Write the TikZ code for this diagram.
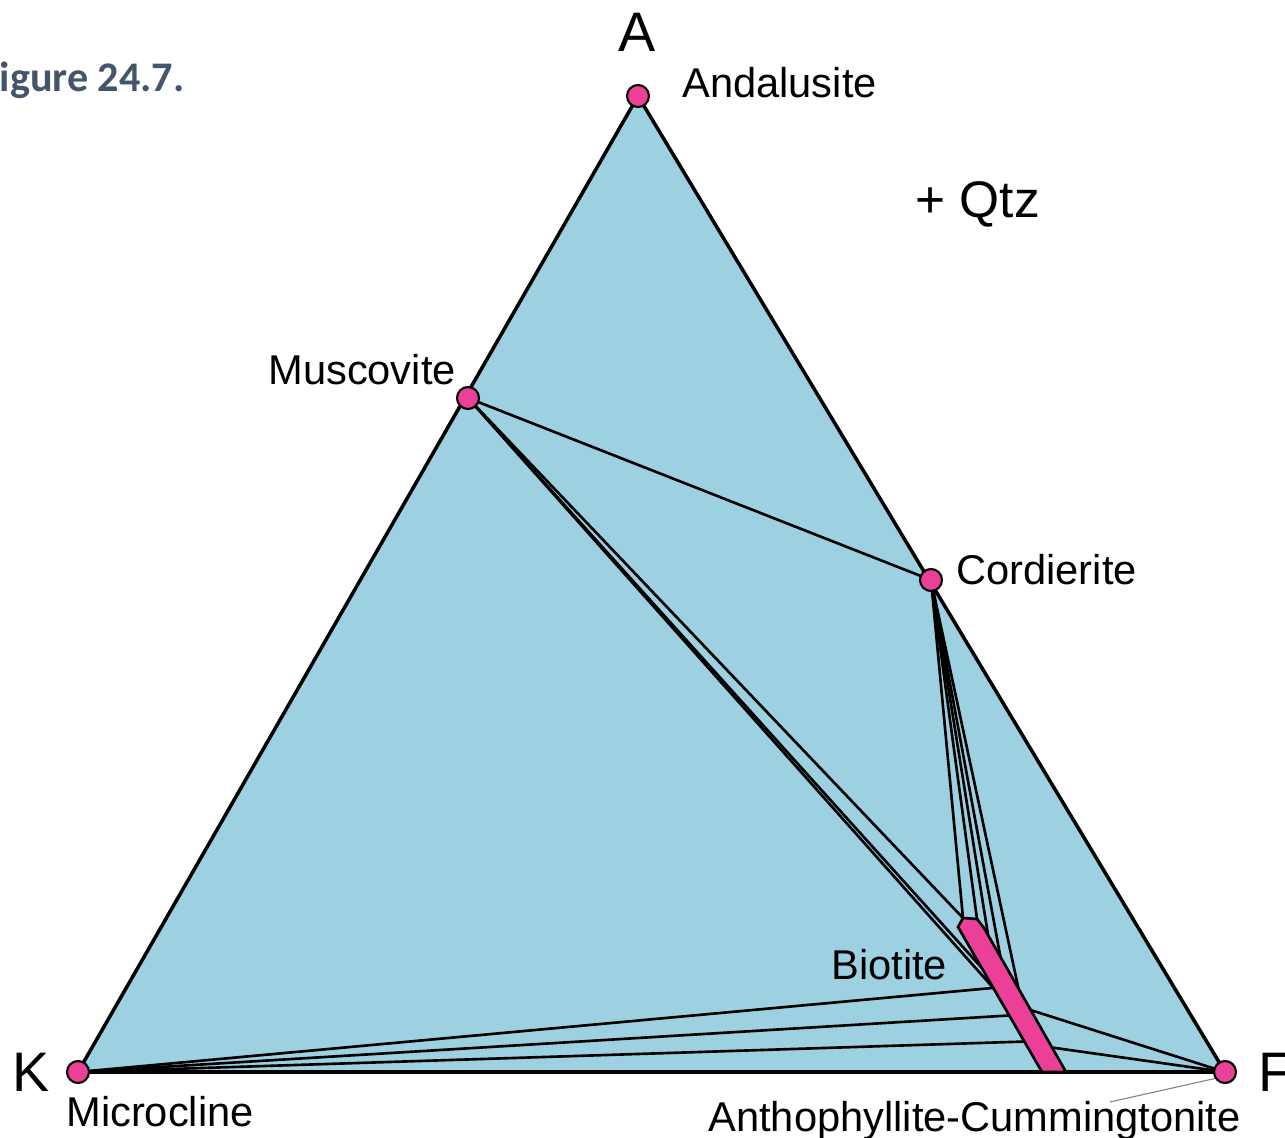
\documentclass[tikz,border=0pt]{standalone}
\usepackage{fontspec}
\setmainfont{Liberation Sans}
\newfontfamily\capfont{Carlito}
\usepackage{xcolor}
\usetikzlibrary{calc}

\definecolor{fieldBlue}{HTML}{9DD0E1}
\definecolor{phasePink}{HTML}{EC4098}
\definecolor{capGray}{HTML}{44546A}

\begin{document}
\begin{tikzpicture}[x=0.02cm, y=-0.02cm,
  tie/.style={line width=1.5pt},
  mineral/.style={circle, draw, fill=phasePink, line width=1.2pt, inner sep=0pt, minimum size=0.44cm},
  lbl/.style={anchor=base west, inner sep=0pt, font=\fontsize{23.7}{28}\selectfont},
  corner/.style={anchor=base west, inner sep=0pt, font=\fontsize{31.7}{36}\selectfont}]
\useasboundingbox (0,0) rectangle (1285,1138);

% apices and phases
\coordinate (A) at (638,96);
\coordinate (K) at (78,1072);
\coordinate (F) at (1225,1072);
\coordinate (Ms) at (468,398);
\coordinate (Crd) at (931,580);

% biotite solid solution
\coordinate (bt1) at (958,927);
\coordinate (bt2) at (963,918);
\coordinate (bt3) at (977,919);
\coordinate (bt4) at (984,928);
\coordinate (bt5) at (1066,1072);
\coordinate (bt6) at (1042,1072);
\foreach \t/\n in {0.28/a, 0.42/b, 0.61/c, 0.79/d}
  \coordinate (bl\n) at ($(bt1)!\t!(bt6)$);
\foreach \t/\n in {0.05/a, 0.2/b, 0.42/c, 0.57/d, 0.83/e}
  \coordinate (br\n) at ($(bt4)!\t!(bt5)$);

\fill[fieldBlue] (A) -- (K) -- (F) -- cycle;

\draw[tie] (Ms) -- (Crd);
\draw[tie] (Ms) -- (bt2);
\draw[tie] (Ms) -- (bla);
\draw[tie] (Ms) -- (blb);
\foreach \p in {bt2, bt3, bra, brb, brc}
  \draw[tie] (Crd) -- (\p);
\foreach \p in {blb, blc, bld}
  \draw[tie] (K) -- (\p);
\foreach \p in {brd, bre}
  \draw[tie] (F) -- (\p);

\draw[line width=2pt, line join=round] (A) -- (K) -- (F) -- cycle;
\draw[line width=1.5pt, fill=phasePink] (bt1) -- (bt2) -- (bt3) -- (bt4) -- (bt5) -- (bt6) -- cycle;

\coordinate (leadEnd) at (1110,1102);
\draw[gray, line width=0.6pt] (F) ++(-8,6) -- (leadEnd);

\node[mineral] (andalusite) at (A) {};
\node[mineral] (muscovite) at (Ms) {};
\node[mineral] (cordierite) at (Crd) {};
\node[mineral] (microcline) at (K) {};
\node[mineral] (anthophyllite) at (F) {};

\node[corner] (lblA) at (618,52) {A};
\node[corner] (lblK) at (12,1091) {K};
\node[corner] (lblF) at (1258,1091) {F};
\node[lbl] (lblAnd) at (682,98) {Andalusite};
\node[lbl, font=\fontsize{29.3}{34}\selectfont] (lblQtz) at (915,218) {+ Qtz};
\node[lbl] (lblMs) at (268,385) {Muscovite};
\node[lbl] (lblCrd) at (956,584) {Cordierite};
\node[lbl] (lblBt) at (831,979) {Biotite};
\node[lbl] (lblMc) at (66,1126) {Microcline};
\node[lbl] (lblAth) at (708,1131) {Anthophyllite-Cummingtonite};
\node[anchor=base west, inner sep=0pt, text=capGray, font=\capfont\bfseries\fontsize{24}{28}\selectfont] (fig) at (-20,92) {Figure 24.7.};
\end{tikzpicture}
\end{document}
